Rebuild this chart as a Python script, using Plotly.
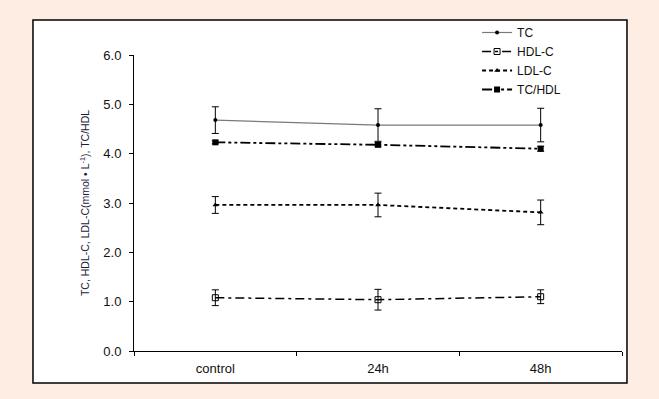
import plotly.graph_objects as go

categories = ["control", "24h", "48h"]
tc = [4.68, 4.58, 4.58]
tc_err = [0.27, 0.33, 0.34]
hdl = [1.08, 1.04, 1.10]
hdl_err = [0.16, 0.21, 0.14]
ldl = [2.96, 2.96, 2.81]
ldl_err = [0.17, 0.24, 0.25]
tchdl = [4.23, 4.18, 4.10]
tchdl_err = [0.03, 0.04, 0.05]

FONT = "Liberation Sans, Arial, sans-serif"

def eb(vals):
    return dict(type="data", array=vals, visible=True, color="black", thickness=1, width=3.5)

fig = go.Figure()
fig.add_trace(go.Scatter(x=categories, y=tc, name="TC", mode="lines+markers",
                         line=dict(color="#7a7a7a", width=1.2),
                         marker=dict(symbol="circle", size=4, color="black"),
                         error_y=eb(tc_err)))
fig.add_trace(go.Scatter(x=categories, y=hdl, name="HDL-C", mode="lines+markers",
                         line=dict(color="black", width=1.5, dash="9px,4px,3px,4px"),
                         marker=dict(symbol="square-open", size=6, color="black", line=dict(width=1)),
                         error_y=eb(hdl_err)))
fig.add_trace(go.Scatter(x=categories, y=ldl, name="LDL-C", mode="lines+markers",
                         line=dict(color="black", width=1.8, dash="4px,3px"),
                         marker=dict(symbol="triangle-up", size=5, color="black"),
                         error_y=eb(ldl_err)))
fig.add_trace(go.Scatter(x=categories, y=tchdl, name="TC/HDL", mode="lines+markers",
                         line=dict(color="black", width=1.8, dash="10px,3px,3px,3px,3px,3px"),
                         marker=dict(symbol="square", size=6, color="black"),
                         error_y=eb(tchdl_err)))

fig.add_shape(type="rect", xref="paper", yref="paper",
              x0=-0.207, x1=1.0102, y0=-0.108, y1=1.118,
              line=dict(color="black", width=1.5), fillcolor="white", layer="below")

fig.update_layout(
    width=659, height=399,
    margin=dict(l=134, r=37, t=55, b=48),
    paper_bgcolor="#fdede3", plot_bgcolor="white",
    font=dict(family=FONT, size=12, color="#111"),
    showlegend=True,
    legend=dict(x=0.703, y=1.125, xanchor="left", yanchor="top",
                bgcolor="rgba(0,0,0,0)", font=dict(size=12, color="#111"),
                tracegroupgap=0, itemwidth=30),
    xaxis=dict(type="category", tickson="boundaries", ticks="outside", ticklen=4,
               tickcolor="black", showline=True, linecolor="black", linewidth=1,
               showgrid=False, zeroline=False, range=[-0.5, 2.5],
               ticklabelstandoff=5,
               tickfont=dict(size=13, color="#111")),
    yaxis=dict(range=[0, 6], tickvals=[0, 1, 2, 3, 4, 5, 6], tickformat=".1f",
               ticks="outside", ticklen=4, tickcolor="black", showline=True,
               linecolor="black", linewidth=1, showgrid=False, zeroline=False,
               ticklabelstandoff=5,
               tickfont=dict(size=13, color="#111")),
)
fig.update_yaxes(title=dict(text="TC, HDL-C, LDL-C(mmol • L<sup>-1</sup>), TC/HDL",
                            font=dict(size=10.5, color="#1a1a40"), standoff=11))

fig.write_html("out.html", config={"displayModeBar": False},
               post_script="document.body.style.margin='0';document.body.style.background='#fdede3';")
